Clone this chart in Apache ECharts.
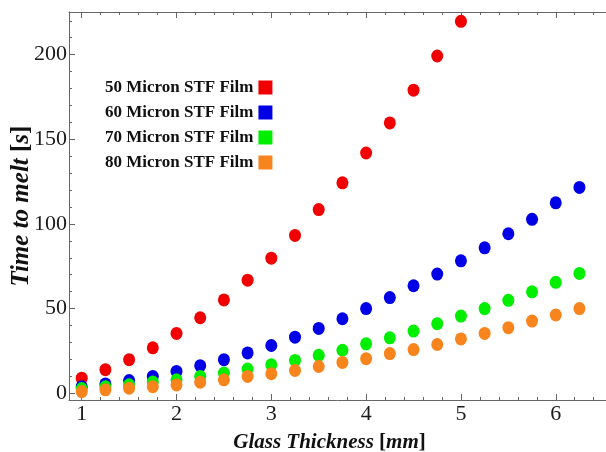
<!DOCTYPE html>
<html>
<head>
<meta charset="utf-8">
<script src="https://cdn.jsdelivr.net/npm/echarts@6/dist/echarts.min.js"></script>
<style>
  html, body { margin: 0; padding: 0; background: #fff; }
  #main { width: 606px; height: 452px; }
</style>
</head>
<body>
<div id="main"></div>
<script>
// glass thickness [mm]
const thickness = [1, 1.25, 1.5, 1.75, 2, 2.25, 2.5, 2.75, 3, 3.25, 3.5, 3.75, 4, 4.25, 4.5, 4.75, 5, 5.25, 5.5, 5.75, 6, 6.25]

// time to melt [s]
const film50 = [8.9, 13.9, 19.8, 26.8, 35.3, 44.6, 55.1, 66.8, 79.8, 93.2, 108.5, 124.3, 141.9, 159.7, 179, 199.2, 219.7]
const film60 = [3.9, 5.5, 7.5, 9.9, 12.9, 16.3, 19.8, 23.8, 28.2, 33.1, 38.3, 44, 50, 56.5, 63.5, 70.4, 78.2, 85.9, 94.2, 102.7, 112.5, 121.6]
const film70 = [2.8, 3.8, 5, 6.6, 7.9, 9.9, 11.9, 14.3, 16.8, 19.4, 22.4, 25.4, 29.2, 32.7, 36.7, 41.1, 45.6, 50, 54.9, 59.9, 65.5, 70.8]
const film80 = [1.0, 2.0, 3.0, 3.9, 4.9, 6.5, 7.9, 9.9, 11.5, 13.5, 15.8, 18.2, 20.4, 23.4, 25.8, 28.8, 32.1, 35.3, 38.7, 42.6, 46.2, 50]

const seriesNames = ['50 Micron STF Film', '60 Micron STF Film', '70 Micron STF Film', '80 Micron STF Film']
const seriesData = [film50, film60, film70, film80]
const colors = ['#f00000', '#0000e6', '#00ee00', '#f7841c']

const serif = 'Liberation Serif'

let myChart = echarts.init(document.getElementById('main'))

const pairs = arr => arr.map((v, i) => [thickness[i], v])

const tickStyle = { color: '#666', width: 1 }

const option = {
  backgroundColor: '#fff',
  animation: false,
  color: colors,
  grid: { left: 69, top: 12, right: 0, bottom: 52, outerBoundsMode: 'none', containLabel: false },
  legend: {
    orient: 'vertical',
    left: 100,
    top: 74,
    align: 'right',
    icon: 'rect',
    itemWidth: 14,
    itemHeight: 14,
    itemGap: 8,
    data: seriesNames,
    textStyle: { fontFamily: serif, fontWeight: 'bold', fontSize: 17, color: '#111' }
  },
  xAxis: [{
    type: 'value',
    min: 0.866,
    max: 6.53,
    splitNumber: 5,
    name: '{a|Glass Thickness }{b|[}{a|mm}{b|]}',
    nameLocation: 'middle',
    nameGap: 32,
    nameMoveOverlap: false,
    nameTextStyle: {
      padding: [0, 16, 0, 0],
      rich: {
        a: { fontFamily: serif, fontSize: 21, fontStyle: 'italic', fontWeight: 'bold', color: '#111' },
        b: { fontFamily: serif, fontSize: 21, fontWeight: 'bold', color: '#111' }
      }
    },
    axisLine: { show: true, onZero: false, lineStyle: tickStyle },
    axisTick: { show: true, inside: true, length: 6, lineStyle: tickStyle },
    minorTick: { show: true, splitNumber: 5, length: 3, lineStyle: tickStyle },
    axisLabel: { fontFamily: serif, fontSize: 22, color: '#1a1a1a', margin: 3, showMinLabel: false, showMaxLabel: false },
    splitLine: { show: false }
  }, {
    type: 'value',
    position: 'top',
    min: 0.866,
    max: 6.53,
    splitNumber: 5,
    axisLine: { show: true, onZero: false, lineStyle: tickStyle },
    axisTick: { show: true, inside: true, length: 6, lineStyle: tickStyle },
    minorTick: { show: true, splitNumber: 5, length: 3, lineStyle: tickStyle },
    axisLabel: { show: false },
    splitLine: { show: false }
  }],
  yAxis: {
    type: 'value',
    min: -4,
    max: 225.2,
    splitNumber: 5,
    name: '{a|Time to melt }{b|[}{a|s}{b|]}',
    nameLocation: 'middle',
    nameGap: 35,
    nameMoveOverlap: false,
    nameTextStyle: {
      rich: {
        a: { fontFamily: serif, fontSize: 25, fontStyle: 'italic', fontWeight: 'bold', color: '#111' },
        b: { fontFamily: serif, fontSize: 25, fontWeight: 'bold', color: '#111' }
      }
    },
    axisLine: { show: true, onZero: false, lineStyle: tickStyle },
    axisTick: { show: true, inside: true, length: 6, lineStyle: tickStyle },
    minorTick: { show: true, splitNumber: 5, length: 3, lineStyle: tickStyle },
    axisLabel: { fontFamily: serif, fontSize: 22, color: '#1a1a1a', margin: 2, showMinLabel: false, showMaxLabel: false },
    splitLine: { show: false }
  },
  series: seriesNames.map((name, i) => ({
    name,
    type: 'scatter',
    xAxisIndex: 0,
    symbol: 'circle',
    symbolSize: [12, 13],
    clip: true,
    itemStyle: { color: colors[i], opacity: 1 },
    data: pairs(seriesData[i])
  }))
}

myChart.setOption(option)
</script>
</body>
</html>
